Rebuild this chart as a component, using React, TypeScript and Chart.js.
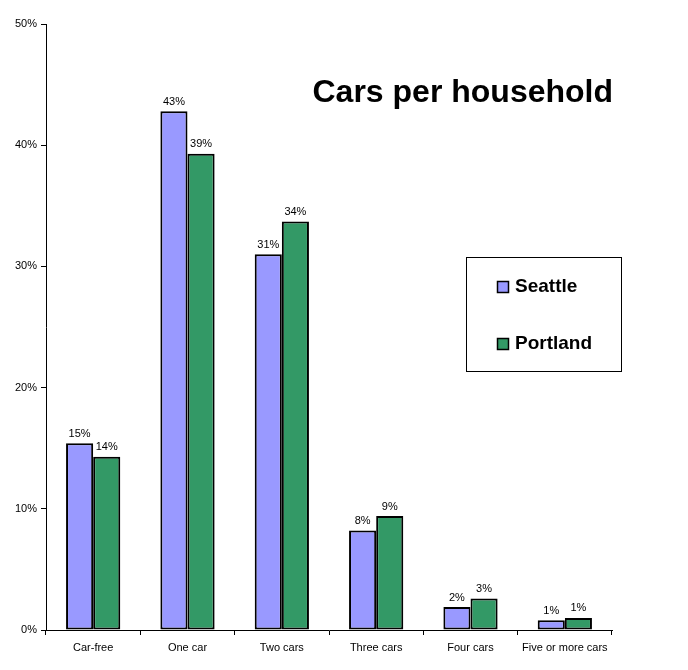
import { useEffect, useRef } from "react";
import { Chart, registerables, Plugin } from "chart.js";

Chart.register(...registerables);

const categories = ["Car-free", "One car", "Two cars", "Three cars", "Four cars", "Five or more cars"];
const seattle = [15.4, 42.8, 31.0, 8.2, 1.9, 0.8];
const portland = [14.3, 39.3, 33.7, 9.4, 2.6, 1.0];
const seriesNames = ["Seattle", "Portland"];
const seriesColors = ["#9999FF", "#339966"];

const FONT = "Arial, 'Liberation Sans', sans-serif";

// percent labels above each bar
const barLabels: Plugin<"bar"> = {
  id: "barLabels",
  afterDatasetsDraw(chart) {
    const ctx = chart.ctx;
    ctx.save();
    ctx.font = `11px ${FONT}`;
    ctx.fillStyle = "#000";
    ctx.textAlign = "center";
    ctx.textBaseline = "bottom";
    chart.data.datasets.forEach((ds, i) => {
      chart.getDatasetMeta(i).data.forEach((bar, j) => {
        const v = ds.data[j] as number;
        ctx.fillText(Math.round(v) + "%", bar.x, bar.y - 4);
      });
    });
    ctx.restore();
  },
};

// title and boxed legend inside the plot area
const overlay: Plugin<"bar"> = {
  id: "overlay",
  afterDraw(chart) {
    const ctx = chart.ctx;
    const a = chart.chartArea;
    ctx.save();
    ctx.fillStyle = "#000";
    ctx.font = `bold 32px ${FONT}`;
    ctx.textAlign = "right";
    ctx.textBaseline = "alphabetic";
    ctx.fillText("Cars per household", a.right + 1, 102);

    const bx = 466.5;
    const by = 257.5;
    ctx.strokeStyle = "#000";
    ctx.lineWidth = 1;
    ctx.strokeRect(bx, by, 155, 114);

    ctx.font = `bold 19px ${FONT}`;
    ctx.textAlign = "left";
    ctx.textBaseline = "middle";
    chart.data.datasets.forEach((ds, i) => {
      const cy = 287 + i * 57;
      ctx.fillStyle = seriesColors[i];
      ctx.fillRect(497, cy - 6, 12, 12);
      ctx.lineWidth = 1.5;
      ctx.strokeRect(497.5, cy - 5.5, 11, 11);
      ctx.fillStyle = "#000";
      ctx.fillText(ds.label as string, 515, cy);
    });
    ctx.restore();
  },
};

export default function App() {
  const canvasRef = useRef<HTMLCanvasElement | null>(null);

  useEffect(() => {
    if (!canvasRef.current) return;
    document.body.style.margin = "0";

    const chart = new Chart(canvasRef.current, {
      type: "bar",
      data: {
        labels: categories,
        datasets: [
          {
            label: seriesNames[0],
            data: seattle,
            backgroundColor: seriesColors[0],
            borderColor: "#000",
            borderWidth: 2,
            borderSkipped: false,
          },
          {
            label: seriesNames[1],
            data: portland,
            backgroundColor: seriesColors[1],
            borderColor: "#000",
            borderWidth: 2,
            borderSkipped: false,
          },
        ],
      },
      options: {
        animation: false,
        responsive: false,
        devicePixelRatio: 1,
        layout: { padding: { top: 24, right: 76, bottom: 0, left: 0 } },
        datasets: { bar: { categoryPercentage: 0.575, barPercentage: 1 } },
        plugins: {
          legend: { display: false },
          tooltip: { enabled: false },
          title: { display: false },
        },
        scales: {
          x: {
            grid: {
              drawOnChartArea: false,
              offset: true,
              tickLength: 5,
              color: "#000",
            },
            border: { color: "#000", width: 1 },
            ticks: {
              color: "#000",
              font: { family: FONT, size: 11 },
              padding: 6,
              maxRotation: 0,
              autoSkip: false,
            },
            afterFit: (s) => {
              s.height = 40;
            },
          },
          y: {
            min: 0,
            max: 50,
            grid: {
              drawOnChartArea: false,
              tickLength: 5,
              color: "#000",
            },
            border: { color: "#000", width: 1 },
            ticks: {
              stepSize: 10,
              color: "#000",
              font: { family: FONT, size: 11 },
              padding: 4,
              callback: (v) => v + "%",
            },
            afterFit: (s) => {
              s.width = 46;
            },
          },
        },
      },
      plugins: [barLabels, overlay],
    });

    return () => {
      chart.destroy();
    };
  }, []);

  return (
    <div style={{ position: "absolute", left: 0, top: 0, width: 688, height: 670, background: "#fff" }}>
      <canvas ref={canvasRef} width={688} height={670} style={{ width: 688, height: 670 }} />
    </div>
  );
}
